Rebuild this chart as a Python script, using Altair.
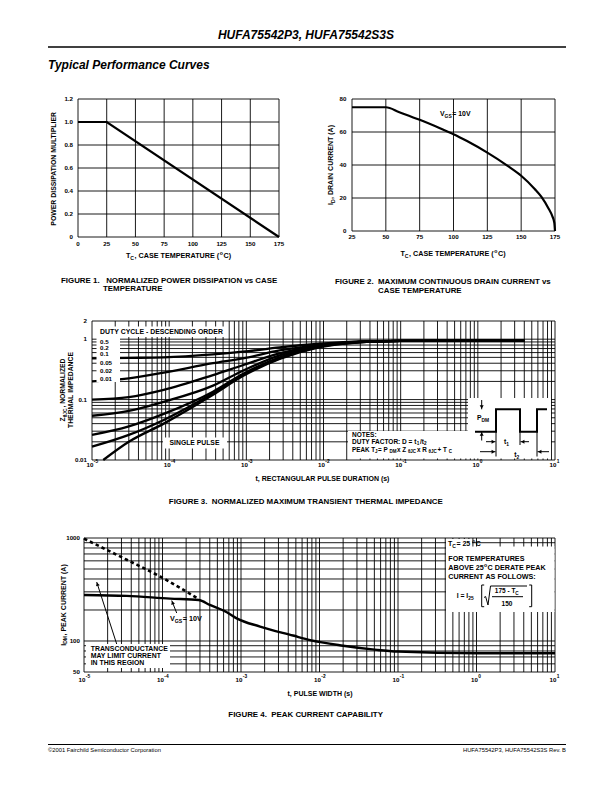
import math
import altair as alt
import pandas as pd

OFF = 8
SANS = "Liberation Sans"
NBSP = "\u00a0"

# ---------------- chart values ----------------
# Figure 1 : normalized power dissipation vs case temperature
f1_tc = [0, 25, 175]
f1_mult = [1.0, 1.0, 0.0]
f1_xticks = [0, 25, 50, 75, 100, 125, 150, 175]
f1_yticks = [0, 0.2, 0.4, 0.6, 0.8, 1.0, 1.2]
f1_ylabels = ["0", "0.2", "0.4", "0.6", "0.8", "1.0", "1.2"]

# Figure 2 : maximum continuous drain current vs case temperature
f2_tc = [25, 50, 60, 75, 90, 100, 110, 125, 140, 150, 160, 165, 170, 173, 174.5, 175]
f2_id = [75, 75, 72, 67.4, 62.3, 58.7, 54.5, 47.5, 39.5, 33.5, 25.5, 20.7, 14, 9, 5, 0]
f2_xticks = [25, 50, 75, 100, 125, 150, 175]
f2_yticks = [0, 20, 40, 60, 80]

# Figure 3 : normalized transient thermal impedance
f3_t = [1e-5, 3e-5, 8.5e-5, 3.7e-4, 9e-4, 2.7e-3, 9e-3, 3e-2, 1e-1, 1, 4]
f3_duty = {
    "0.5":  [0.48, 0.49, 0.50, 0.56, 0.62, 0.73, 0.84, 0.92, 0.94, 0.95, 0.95],
    "0.2":  [0.20, 0.225, 0.28, 0.40, 0.48, 0.65, 0.80, 0.91, 0.94, 0.95, 0.95],
    "0.1":  [0.10, 0.11, 0.145, 0.255, 0.37, 0.58, 0.78, 0.90, 0.94, 0.95, 0.95],
    "0.05": [0.054, 0.065, 0.092, 0.17, 0.30, 0.54, 0.77, 0.90, 0.94, 0.95, 0.95],
    "0.02": [0.026, 0.036, 0.058, 0.135, 0.265, 0.50, 0.76, 0.90, 0.94, 0.95, 0.95],
    "0.01": [0.0166, 0.026, 0.046, 0.127, 0.255, 0.48, 0.75, 0.89, 0.94, 0.95, 0.95],
}
f3_single_t = [1.4e-5, 3e-5, 8.5e-5, 3.7e-4, 9e-4, 2.7e-3, 9e-3, 3e-2, 1e-1, 1, 4]
f3_single = [0.01, 0.02, 0.04, 0.12, 0.245, 0.47, 0.74, 0.89, 0.94, 0.95, 0.95]
f3_yticks = [0.01, 0.1, 1, 2]
f3_ylabels = ["0.01", "0.1", "1", "2"]
f3_legend = ["0.5", "0.2", "0.1", "0.05", "0.02", "0.01"]

# Figure 4 : peak current capability
f4_t = [1e-5, 3.5e-5, 1.25e-4, 2.9e-4, 4e-4, 6.6e-4, 8.8e-4, 1.75e-3, 4.6e-3, 7.6e-3, 2e-2, 5.4e-2, 1e-1, 1, 10]
f4_i = [280, 274, 258, 250, 224, 190, 166, 138, 113, 102, 90, 82, 79, 76, 76]
f4_gm_t = [1e-5, 3.5e-5, 9.3e-5, 2.9e-4]
f4_gm_i = [985, 615, 423, 255]
f4_yticks = [50, 100, 1000]
f4_ylabels = ["50", "100", "1000"]

log_exps = [-5, -4, -3, -2, -1, 0, 1]
log_grid = [k * 10.0 ** d for d in range(-5, 1) for k in range(1, 10)] + [10.0]

# ---------------- helpers ----------------
BOLD_W = {' ': 278, NBSP: 278, '(': 333, ')': 333, '+': 584, ',': 278, '-': 333, '.': 278, '/': 278,
          ':': 333, '=': 584, 'θ': 611, '©': 737, '°': 400,
          'A': 722, 'B': 722, 'C': 722, 'D': 722, 'E': 667, 'F': 611, 'G': 778, 'H': 722,
          'I': 278, 'J': 556, 'K': 722, 'L': 611, 'M': 833, 'N': 722, 'O': 778, 'P': 667,
          'Q': 778, 'R': 722, 'S': 667, 'T': 611, 'U': 722, 'V': 667, 'W': 944, 'X': 667,
          'Y': 667, 'Z': 611, 'a': 556, 'b': 611, 'c': 556, 'd': 611, 'e': 556, 'f': 333,
          'g': 611, 'h': 611, 'i': 278, 'j': 278, 'k': 556, 'l': 278, 'm': 889, 'n': 611,
          'o': 611, 'p': 611, 'q': 611, 'r': 389, 's': 556, 't': 333, 'u': 611, 'v': 556,
          'w': 778, 'x': 556, 'y': 556, 'z': 500}


def twidth(s, size):
    return sum(BOLD_W.get(c, 556) for c in s) / 1000.0 * size


ONE = alt.Data(values=[{"k": 0}])
layers = []


def rich(x, y, parts, size, align="left", angle=0, font=SANS, style="normal", weight="bold",
         subdrop=0.28):
    items, total = [], 0.0
    for s, mode in parts:
        fs = size if mode == "n" else size * 0.72
        items.append((s, mode, fs, total))
        total += twidth(s, fs) + (0.5 if mode != "n" else 0.0)
    start = {"left": 0.0, "center": -total / 2, "right": -total}[align]
    base = 0.36 * size
    out = []
    for s, mode, fs, off in items:
        shift = {"n": 0.0, "sub": subdrop * size, "sup": -0.42 * size}[mode]
        out.append(alt.Chart(ONE).mark_text(
            text=s.replace(" ", NBSP), font=font, fontSize=fs, fontWeight=weight, fontStyle=style,
            align="left", baseline="alphabetic", angle=angle,
            dx=start + off, dy=base + shift, color="black"
        ).encode(x=alt.value(x - OFF), y=alt.value(y - OFF)))
    return out


def plain(x, y, s, size, align="left", font=SANS, weight="bold", style="normal"):
    return [alt.Chart(ONE).mark_text(
        text=s, font=font, fontSize=size, fontWeight=weight, fontStyle=style,
        align=align, baseline="middle", color="black"
    ).encode(x=alt.value(x - OFF), y=alt.value(y - OFF))]


def lin(dom, p0, p1):
    return alt.Scale(type="linear", domain=dom, range=[p0 - OFF, p1 - OFF], nice=False, zero=False)


def lg(dom, p0, p1):
    return alt.Scale(type="log", domain=dom, range=[p0 - OFF, p1 - OFF], nice=False)


def grid(xs, ys, xdom, ydom, xvals, yvals, sw=0.9):
    v = pd.DataFrame({"g": xvals, "a": ydom[0], "b": ydom[1]})
    h = pd.DataFrame({"g": yvals, "a": xdom[0], "b": xdom[1]})
    lv = alt.Chart(v).mark_rule(color="black", strokeWidth=sw).encode(
        x=alt.X("g:Q", scale=xs, axis=None), y=alt.Y("a:Q", scale=ys, axis=None), y2="b:Q")
    lh = alt.Chart(h).mark_rule(color="black", strokeWidth=sw).encode(
        y=alt.Y("g:Q", scale=ys, axis=None), x=alt.X("a:Q", scale=xs, axis=None), x2="b:Q")
    return [lv, lh]


def xlabels(vals, labs, xs, ypage, size=6.2):
    df = pd.DataFrame({"v": vals, "lab": labs})
    return [alt.Chart(df).mark_text(font=SANS, fontSize=size, fontWeight="bold", align="center",
                                    baseline="middle", color="black").encode(
        x=alt.X("v:Q", scale=xs, axis=None), y=alt.value(ypage - OFF), text="lab:N")]


def ylabels(vals, labs, ys, xpage, size=6.2):
    df = pd.DataFrame({"v": vals, "lab": labs})
    return [alt.Chart(df).mark_text(font=SANS, fontSize=size, fontWeight="bold", align="right",
                                    baseline="middle", color="black").encode(
        y=alt.Y("v:Q", scale=ys, axis=None), x=alt.value(xpage - OFF), text="lab:N")]


def powlabels(exps, xs, ypage, size=6.2):
    df = pd.DataFrame({"v": [10.0 ** e for e in exps], "b": "10", "e": [str(e) for e in exps]})
    b = alt.Chart(df).mark_text(font=SANS, fontSize=size, fontWeight="bold", align="right",
                                baseline="middle", dx=1.5, color="black").encode(
        x=alt.X("v:Q", scale=xs, axis=None), y=alt.value(ypage - OFF), text="b:N")
    e = alt.Chart(df).mark_text(font=SANS, fontSize=size * 0.78, fontWeight="bold", align="left",
                                baseline="middle", dx=1.8, dy=-2.8, color="black").encode(
        x=alt.X("v:Q", scale=xs, axis=None), y=alt.value(ypage - OFF), text="e:N")
    return [b, e]


def boxes(rects):
    df = pd.DataFrame([{"x": a - OFF, "y": b - OFF, "x2": c - OFF, "y2": d - OFF} for a, b, c, d in rects])
    return [alt.Chart(df).mark_rect(color="white").encode(
        x=alt.X("x:Q", scale=None, axis=None), x2="x2:Q",
        y=alt.Y("y:Q", scale=None, axis=None), y2="y2:Q")]


def segs(lines, sw=1.0):
    df = pd.DataFrame([{"x": a - OFF, "y": b - OFF, "x2": c - OFF, "y2": d - OFF} for a, b, c, d in lines])
    return [alt.Chart(df).mark_rule(color="black", strokeWidth=sw).encode(
        x=alt.X("x:Q", scale=None, axis=None), x2="x2:Q",
        y=alt.Y("y:Q", scale=None, axis=None), y2="y2:Q")]


def poly(points, sw=1.0):
    df = pd.DataFrame([{"x": a - OFF, "y": b - OFF, "o": i} for i, (a, b) in enumerate(points)])
    return [alt.Chart(df).mark_line(color="black", strokeWidth=sw, strokeJoin="miter").encode(
        x=alt.X("x:Q", scale=None, axis=None), y=alt.Y("y:Q", scale=None, axis=None), order="o:Q")]


def arrow(tail, tip, sw=1.0, size=16):
    dx, dy = tip[0] - tail[0], tip[1] - tail[1]
    L = math.hypot(dx, dy)
    ang = math.degrees(math.atan2(dx, -dy)) % 360
    hx, hy = tip[0] - dx / L * 2.2, tip[1] - dy / L * 2.2
    head = pd.DataFrame([{"x": hx - OFF, "y": hy - OFF, "a": ang}])
    return segs([(tail[0], tail[1], tip[0], tip[1])], sw) + [
        alt.Chart(head).mark_point(shape="triangle-up", filled=True, color="black", size=size,
                                   opacity=1).encode(
            x=alt.X("x:Q", scale=None, axis=None), y=alt.Y("y:Q", scale=None, axis=None),
            angle=alt.Angle("a:Q", scale=None))]


CAP = 7.9  # caption font size

# ---------------- page header / footer ----------------
layers += plain(306, 35, "HUFA75542P3, HUFA75542S3S", 12, align="center", style="italic")
layers += segs([(48, 47, 566, 47)], 1.3)
layers += plain(48, 65, "Typical Performance Curves", 12, style="italic")
layers += segs([(48, 744.5, 566, 744.5)], 1.0)
layers += plain(48, 750, "©2001 Fairchild Semiconductor Corporation", 5.8, weight="normal")
layers += plain(566, 750, "HUFA75542P3, HUFA75542S3S Rev. B", 5.8, align="right", weight="normal")

# ---------------- Figure 1 ----------------
x1d, y1d = [0, 175], [0, 1.2]
xs1, ys1 = lin(x1d, 78, 279), lin(y1d, 237, 99)
layers += grid(xs1, ys1, x1d, y1d, f1_xticks, f1_yticks)
df1 = pd.DataFrame({"tc": f1_tc, "m": f1_mult})
layers.append(alt.Chart(df1).mark_line(color="black", strokeWidth=2.2).encode(
    x=alt.X("tc:Q", scale=xs1, axis=None), y=alt.Y("m:Q", scale=ys1, axis=None)))
layers += ylabels(f1_yticks, f1_ylabels, ys1, 73)
layers += xlabels(f1_xticks, [str(v) for v in f1_xticks], xs1, 244)
layers += rich(54, 168, [("POWER DISSIPATION MULTIPLIER", "n")], 6.9, align="center", angle=270)
layers += rich(178.5, 255, [("T", "n"), ("C", "sub"), (", CASE TEMPERATURE (", "n"), ("o", "sup"), ("C)", "n")],
               7.2, align="center")
layers += rich(61, 280, [("FIGURE 1.   NORMALIZED POWER DISSIPATION vs CASE", "n")], CAP)
layers += rich(103, 288.5, [("TEMPERATURE", "n")], CAP)

# ---------------- Figure 2 ----------------
x2d, y2d = [25, 175], [0, 80]
xs2, ys2 = lin(x2d, 352, 555), lin(y2d, 231, 99)
layers += grid(xs2, ys2, x2d, y2d, f2_xticks, f2_yticks)
df2 = pd.DataFrame({"tc": f2_tc, "id": f2_id})
layers.append(alt.Chart(df2).mark_line(color="black", strokeWidth=2.2, interpolate="monotone").encode(
    x=alt.X("tc:Q", scale=xs2, axis=None), y=alt.Y("id:Q", scale=ys2, axis=None)))
layers += ylabels(f2_yticks, [str(v) for v in f2_yticks], ys2, 346.5)
layers += xlabels(f2_xticks, [str(v) for v in f2_xticks], xs2, 237)
layers += rich(330.7, 165, [("I", "n"), ("D", "sub"), (", DRAIN CURRENT (A)", "n")], 7, align="center", angle=270)
layers += rich(453, 253.3, [("T", "n"), ("C", "sub"), (", CASE TEMPERATURE (", "n"), ("o", "sup"), ("C)", "n")],
               7.2, align="center")
layers += rich(440, 114, [("V", "n"), ("GS", "sub"), (" = 10V", "n")], 6.9)
layers += rich(335, 281.5, [("FIGURE 2.  MAXIMUM CONTINUOUS DRAIN CURRENT vs", "n")], CAP)
layers += rich(378, 290, [("CASE TEMPERATURE", "n")], CAP)

# ---------------- Figure 3 ----------------
x3d, y3d = [1e-5, 10], [0.01, 2]
xs3, ys3 = lg(x3d, 92, 555), lg(y3d, 460, 321)
f3_ygrid = [k * 10.0 ** d for d in (-2, -1) for k in range(1, 10)] + [1.0, 2.0]
layers += grid(xs3, ys3, x3d, y3d, log_grid, f3_ygrid)
rows = []
for name, vals in f3_duty.items():
    rows += [{"s": name, "t": t, "z": z} for t, z in zip(f3_t, vals)]
rows += [{"s": "single", "t": t, "z": z} for t, z in zip(f3_single_t, f3_single)]
df3 = pd.DataFrame(rows)
layers.append(alt.Chart(df3).mark_line(color="black", strokeWidth=2.3, interpolate="monotone").encode(
    x=alt.X("t:Q", scale=xs3, axis=None), y=alt.Y("z:Q", scale=ys3, axis=None), detail="s:N"))
layers += boxes([(93, 326.5, 228, 337), (96.5, 337, 120, 382), (163, 437.5, 227, 448.5),
                 (348, 431, 468, 458.5), (468, 398, 551, 458.5)])
layers += ylabels(f3_yticks, f3_ylabels, ys3, 87)
layers += powlabels(log_exps, xs3, 465)
layers += rich(62.5, 390, [("Z", "n"), ("θJC", "sub"), (", NORMALIZED", "n")], 6.8, align="center", angle=270)
layers += rich(71, 390, [("THERMAL IMPEDANCE", "n")], 6.8, align="center", angle=270)
layers += rich(323, 478, [("t, RECTANGULAR PULSE DURATION (s)", "n")], 7, align="center")
layers += rich(100, 331.5, [("DUTY CYCLE - DESCENDING ORDER", "n")], 6.9)
for lab, yy in zip(f3_legend, [341.5, 347.7, 353.8, 362.5, 371, 378.3]):
    layers += rich(100, yy, [(lab, "n")], 6.2)
layers += rich(194.5, 443, [("SINGLE PULSE", "n")], 6.8, align="center")
layers += rich(352, 434.8, [("NOTES:", "n")], 6.5)
layers += rich(352, 441.8, [("DUTY FACTOR: D = t", "n"), ("1", "sub"), ("/t", "n"), ("2", "sub")], 6.5,
               subdrop=0.16)
layers += rich(352, 449.6, [("PEAK T", "n"), ("J", "sub"), (" = P", "n"), ("DM", "sub"), (" x Z", "n"),
                            ("θJC", "sub"), (" x R", "n"), ("θJC", "sub"), (" + T", "n"), ("C", "sub")], 6.3,
               subdrop=0.2)
# pulse sketch
layers += poly([(475, 431.7), (496, 431.7), (496, 409.3), (520, 409.3), (520, 431.7), (537, 431.7),
                (537, 409.3), (547, 409.3)], 2.0)
layers += segs([(496, 431.7, 496, 456.5), (520, 431.7, 520, 445), (537, 431.7, 537, 456.5)], 1.0)
layers += arrow((481.7, 400), (481.7, 409.3))
layers += arrow((481.7, 440.5), (481.7, 431.7))
layers += arrow((486, 441.7), (495.5, 441.7))
layers += arrow((529, 441.7), (520.5, 441.7))
layers += arrow((480, 451.7), (495.5, 451.7))
layers += arrow((549, 451.7), (537.5, 451.7))
layers += rich(477, 418, [("P", "n"), ("DM", "sub")], 6.8)
layers += rich(506.7, 441.2, [("t", "n"), ("1", "sub")], 6.8, align="center")
layers += rich(517, 454.5, [("t", "n"), ("2", "sub")], 6.8, align="center")
layers += rich(306, 501.5, [("FIGURE 3.  NORMALIZED MAXIMUM TRANSIENT THERMAL IMPEDANCE", "n")], CAP,
               align="center")

# ---------------- Figure 4 ----------------
x4d, y4d = [1e-5, 10], [50, 1000]
xs4, ys4 = lg(x4d, 84, 555), lg(y4d, 672, 538)
f4_ygrid = [50, 60, 70, 80, 90] + [k * 100.0 for k in range(1, 11)]
layers += grid(xs4, ys4, x4d, y4d, log_grid, f4_ygrid)
df4 = pd.DataFrame({"t": f4_t, "i": f4_i})
layers.append(alt.Chart(df4).mark_line(color="black", strokeWidth=2.4, interpolate="monotone").encode(
    x=alt.X("t:Q", scale=xs4, axis=None), y=alt.Y("i:Q", scale=ys4, axis=None)))
df4b = pd.DataFrame({"t": f4_gm_t, "i": f4_gm_i})
layers.append(alt.Chart(df4b).mark_line(color="black", strokeWidth=2.6, strokeDash=[3.5, 3],
                                        interpolate="monotone").encode(
    x=alt.X("t:Q", scale=xs4, axis=None), y=alt.Y("i:Q", scale=ys4, axis=None)))
layers += boxes([(86, 644, 170, 668), (446, 546.5, 554.5, 612), (446, 539, 472, 547)])
layers += ylabels(f4_yticks, f4_ylabels, ys4, 80)
layers += powlabels(log_exps, xs4, 680)
layers += rich(63, 605, [("I", "n"), ("DM", "sub"), (", PEAK CURRENT (A)", "n")], 7, align="center", angle=270)
layers += rich(320, 693, [("t, PULSE WIDTH (s)", "n")], 7, align="center")
layers += rich(306, 714, [("FIGURE 4.  PEAK CURRENT CAPABILITY", "n")], CAP, align="center")
layers += rich(170, 618, [("V", "n"), ("GS", "sub"), (" = 10V", "n")], 7.2)
layers += arrow((176.7, 613), (171.7, 600.5))
layers += arrow((116.7, 644), (96.7, 582))
for s, yy in zip(["TRANSCONDUCTANCE", "MAY LIMIT CURRENT", "IN THIS REGION"], [648.3, 655.7, 662.7]):
    layers += rich(90.7, yy, [(s, "n")], 6.9)
layers += rich(448, 543.3, [("T", "n"), ("C", "sub"), (" = 25", "n"), ("o", "sup"), ("C", "n")], 7)
layers += rich(448.3, 558.3, [("FOR TEMPERATURES", "n")], 7.2)
layers += rich(448.3, 567.7, [("ABOVE 25", "n"), ("o", "sup"), ("C DERATE PEAK", "n")], 7.2)
layers += rich(448.3, 576.7, [("CURRENT AS FOLLOWS:", "n")], 7.2)
layers += rich(456.7, 595.7, [("I = I", "n"), ("25", "sub")], 6.8)
layers += rich(507, 591, [("175 - T", "n"), ("C", "sub")], 6.5, align="center")
layers += rich(507, 603.3, [("150", "n")], 6.5, align="center")
layers += segs([(481.7, 585, 481.7, 606.7), (481.7, 585, 484.2, 585), (481.7, 606.7, 484.2, 606.7),
                (531.7, 585, 531.7, 606.7), (529.2, 585, 531.7, 585), (529.2, 606.7, 531.7, 606.7),
                (492, 596.7, 523, 596.7)], 1.0)
layers += poly([(484, 597.5), (485.6, 596.5), (488, 605), (490.5, 586), (527, 586)], 1.0)

chart = alt.layer(*layers).resolve_scale(x="independent", y="independent").properties(
    width=596, height=776, autosize=alt.AutoSizeParams(type="none"), padding=0, background="white"
).configure_view(strokeWidth=0)

chart.save("out.html", embed_options={"renderer": "svg", "actions": False})
